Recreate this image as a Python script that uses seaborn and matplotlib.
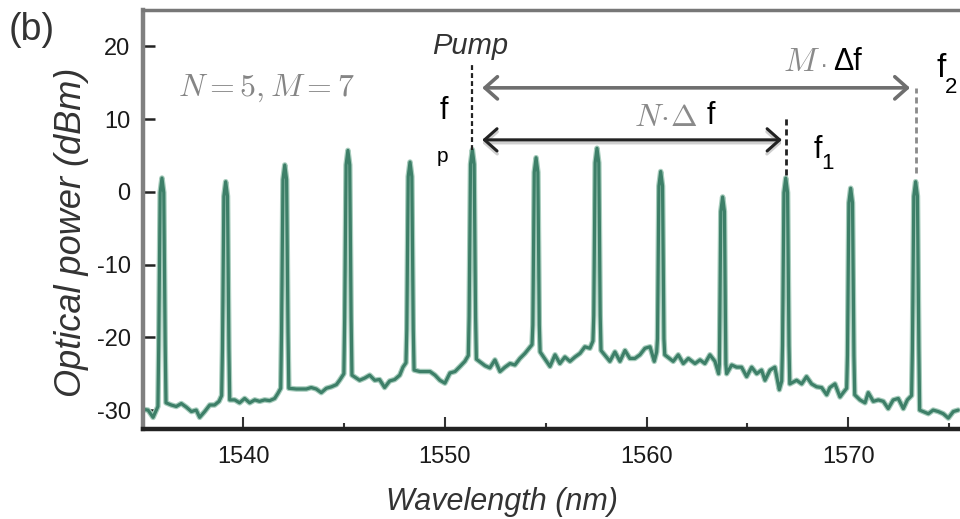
import pandas as pd
import seaborn as sns
import matplotlib.pyplot as plt

# floor of the spectrum (nm, dBm)
floor_wl = [1535.03, 1535.28, 1535.53, 1535.77,
            1536.17, 1536.43, 1536.68, 1536.93, 1537.18, 1537.43, 1537.67, 1537.84, 1538.09, 1538.34, 1538.58, 1538.80, 1538.93,
            1539.33, 1539.58, 1539.82, 1540.07, 1540.32, 1540.57, 1540.81, 1541.06, 1541.31, 1541.56, 1541.72, 1541.86,
            1542.26, 1542.63, 1542.88, 1543.13, 1543.37, 1543.62, 1543.87, 1544.12, 1544.37, 1544.62, 1544.78, 1544.99,
            1545.39, 1545.77, 1546.02, 1546.27, 1546.52, 1546.76, 1547.01, 1547.26, 1547.51, 1547.76, 1547.92, 1548.07,
            1548.47, 1548.76, 1549.01, 1549.26, 1549.51, 1549.75, 1550.00, 1550.25, 1550.50, 1550.75, 1550.99, 1551.16,
            1551.56, 1551.99, 1552.23, 1552.48, 1552.73, 1552.98, 1553.23, 1553.47, 1553.72, 1553.97, 1554.32,
            1554.72, 1555.04, 1555.21, 1555.46, 1555.70, 1555.95, 1556.20, 1556.45, 1556.70, 1556.94, 1557.19, 1557.34,
            1557.74, 1558.18, 1558.43, 1558.68, 1558.93, 1559.17, 1559.42, 1559.67, 1559.92, 1560.17, 1560.38, 1560.50,
            1560.90, 1561.32, 1561.57, 1561.82, 1562.07, 1562.40, 1562.65, 1562.89, 1563.14, 1563.39, 1563.57,
            1563.97, 1564.22, 1564.46, 1564.71, 1564.96, 1565.21, 1565.46, 1565.70, 1565.87, 1566.12, 1566.36, 1566.58, 1566.70,
            1567.10, 1567.44, 1567.69, 1567.93, 1568.18, 1568.43, 1568.68, 1568.93, 1569.09, 1569.34, 1569.59, 1569.75, 1569.92,
            1570.32, 1570.58, 1570.83, 1570.99, 1571.24, 1571.49, 1571.74, 1571.98, 1572.23, 1572.48, 1572.73, 1572.93, 1573.14,
            1573.54, 1573.97, 1574.21, 1574.46, 1574.71, 1574.96, 1575.21, 1575.45]
floor_db = [-29.9, -30.0, -31.0, -29.5,
            -29.0, -29.3, -29.5, -29.1, -29.6, -30.2, -30.0, -31.0, -30.2, -29.3, -29.3, -28.8, -28.0,
            -28.6, -28.6, -29.0, -28.4, -29.0, -28.6, -28.8, -28.6, -28.7, -28.4, -27.7, -27.0,
            -27.0, -27.1, -27.1, -27.1, -26.9, -27.1, -27.6, -27.0, -26.8, -26.5, -25.9, -25.0,
            -25.2, -25.9, -25.6, -25.2, -25.9, -25.8, -26.9, -26.0, -25.8, -25.2, -24.1, -23.5,
            -24.5, -24.7, -24.7, -24.7, -25.2, -25.9, -26.3, -24.9, -24.7, -24.0, -23.3, -22.5,
            -23.0, -23.9, -24.2, -23.1, -24.7, -24.1, -23.6, -23.8, -22.9, -22.2, -21.0,
            -22.0, -23.3, -24.0, -22.4, -23.6, -22.7, -23.3, -22.7, -22.2, -21.3, -21.5, -20.5,
            -21.8, -23.3, -22.0, -23.3, -21.8, -22.9, -22.9, -22.4, -21.5, -21.3, -23.3, -22.0,
            -22.4, -23.3, -22.4, -23.6, -22.9, -23.6, -23.1, -23.6, -22.4, -23.3, -25.0,
            -25.0, -23.8, -24.1, -24.1, -25.4, -24.1, -25.0, -24.5, -25.9, -24.5, -24.1, -27.2, -26.0,
            -26.4, -25.9, -26.4, -25.4, -26.4, -26.8, -26.9, -27.9, -26.9, -26.4, -28.2, -27.6, -27.0,
            -27.9, -28.6, -29.0, -27.6, -28.8, -28.6, -28.8, -29.8, -28.6, -28.4, -29.8, -28.6, -28.0,
            -30.0, -30.5, -30.0, -30.2, -30.5, -31.1, -30.2, -30.0]

# comb lines (nm, dBm)
peak_wl = [1535.97, 1539.13, 1542.06, 1545.19, 1548.27, 1551.36, 1554.52,
           1557.54, 1560.70, 1563.77, 1566.90, 1570.12, 1573.34]
peak_db = [1.9, 1.4, 3.7, 5.7, 4.1, 5.8, 4.7, 6.0, 2.8, -0.7, 1.9, 0.5, 1.4]

# line profile: offset from centre (nm), level below the top (dB)
line_dnm = [-0.16, -0.09, 0.0, 0.09, 0.16]
line_ddb = [-23.0, -2.0, 0.0, -2.0, -23.0]

PUMP, F1, F2 = 5, 10, 12

line_wl = [w + d for w in peak_wl for d in line_dnm]
line_db = [p + d for p in peak_db for d in line_ddb]

df = pd.DataFrame({"wavelength": floor_wl + line_wl, "power": floor_db + line_db})
df = df.sort_values("wavelength")

sns.set_style("ticks")
plt.rcParams["font.family"] = ["Liberation Sans", "DejaVu Sans"]
plt.rcParams["mathtext.fontset"] = "cm"
plt.rcParams["axes.unicode_minus"] = False

fig = plt.figure(figsize=(9.6, 5.19), dpi=100)
ax = fig.add_axes([143 / 960, 90 / 519, 817 / 960, 419 / 519])

# soft halo + core line
sns.lineplot(data=df, x="wavelength", y="power", estimator=None, color="#a8cdbd", lw=4.0, ax=ax)
sns.lineplot(data=df, x="wavelength", y="power", estimator=None, color="#3d7f68", lw=2.3, ax=ax)

ax.set_xlim(1535.03, 1575.54)
ax.set_ylim(-32.6, 25.0)
ax.set_yticks([-30, -20, -10, 0, 10, 20])
ax.set_xticks([1540, 1550, 1560, 1570])
ax.set_xticks([1545, 1555, 1565, 1575], minor=True)

ax.spines["right"].set_visible(False)
ax.spines["top"].set_color("#777777")
ax.spines["top"].set_linewidth(2.5)
ax.spines["left"].set_color("#808080")
ax.spines["left"].set_linewidth(3.2)
ax.spines["bottom"].set_color("#222222")
ax.spines["bottom"].set_linewidth(3.2)

ax.tick_params(axis="y", direction="in", length=8.5, width=1.8, color="#222222",
               pad=9, labelsize=17, labelcolor="#1a1a1a")
ax.tick_params(axis="x", which="major", direction="in", length=8.5, width=1.5, color="#333333",
               pad=12, labelsize=17, labelcolor="#1a1a1a")
ax.tick_params(axis="x", which="minor", direction="in", length=4.5, width=1.5, color="#333333")

ax.set_xlabel("Wavelength (nm)", fontsize=22, style="italic", color="#333333")
ax.xaxis.set_label_coords(0.4394, -0.138)
ax.set_ylabel("Optical power (dBm)", fontsize=26, style="italic", color="#333333")
ax.yaxis.set_label_coords(-0.066, 0.47)

fig.text(0.0333, 0.942, "(b)", fontsize=27, color="#333333", ha="center", va="center")

# annotations
ax.text(1541.13, 14.2, r"$N=5, M=7$", fontsize=23, color="#858585", ha="center", va="center")
ax.text(1551.24, 20.1, "Pump", fontsize=21, style="italic", color="#333333", ha="center", va="center")
ax.text(1549.95, 11.1, "f", fontsize=22, color="black", ha="center", va="center")
ax.text(1549.90, 4.8, "p", fontsize=15, color="black", ha="center", va="center")

ax.vlines(peak_wl[PUMP], peak_db[PUMP], 17.8, colors="#222222", linestyles=(0, (2.2, 1.4)), lw=1.6)
ax.vlines(peak_wl[F1], peak_db[F1] + 0.4, 10.6, colors="#222222", linestyles=(0, (2.2, 1.4)), lw=2.0)
ax.vlines(peak_wl[F2], peak_db[F2] + 1.2, 14.3, colors="#8a8a8a", linestyles=(0, (2.2, 1.4)), lw=2.0)

arrow = "<->,head_length=0.45,head_width=0.4"
ax.annotate("", xy=(1573.06, 14.3), xytext=(1551.85, 14.3),
            arrowprops=dict(arrowstyle=arrow, color="#6e6e6e", lw=2.6, mutation_scale=20,
                            shrinkA=0, shrinkB=0))
ax.annotate("", xy=(1566.71, 6.75), xytext=(1551.85, 6.75),
            arrowprops=dict(arrowstyle=arrow, color="#cfcfcf", lw=2.4, mutation_scale=20,
                            shrinkA=0, shrinkB=0))
ax.annotate("", xy=(1566.71, 7.15), xytext=(1551.85, 7.15),
            arrowprops=dict(arrowstyle=arrow, color="#222222", lw=2.2, mutation_scale=20,
                            shrinkA=0, shrinkB=0))

ax.text(1567.70, 17.8, r"$M$", fontsize=24, color="#8a8a8a", ha="center", va="center")
ax.text(1568.80, 17.3, "·", fontsize=18, color="#8a8a8a", ha="center", va="center")
ax.text(1569.95, 17.9, "Δf", fontsize=22, color="black", ha="center", va="center")
ax.text(1574.59, 16.9, "f", fontsize=24, color="black", ha="center", va="center")
ax.text(1575.09, 14.4, "2", fontsize=16, color="black", ha="center", va="center")

ax.text(1560.95, 10.1, r"$N\!\cdot\!\Delta$", fontsize=23, color="#8a8a8a", ha="center", va="center")
ax.text(1563.19, 10.45, "f", fontsize=22, color="black", ha="center", va="center")
ax.text(1568.50, 5.8, "f", fontsize=22, color="black", ha="center", va="center")
ax.text(1568.99, 3.85, "1", fontsize=16, color="black", ha="center", va="center")

fig.savefig("out.png", dpi=100)
